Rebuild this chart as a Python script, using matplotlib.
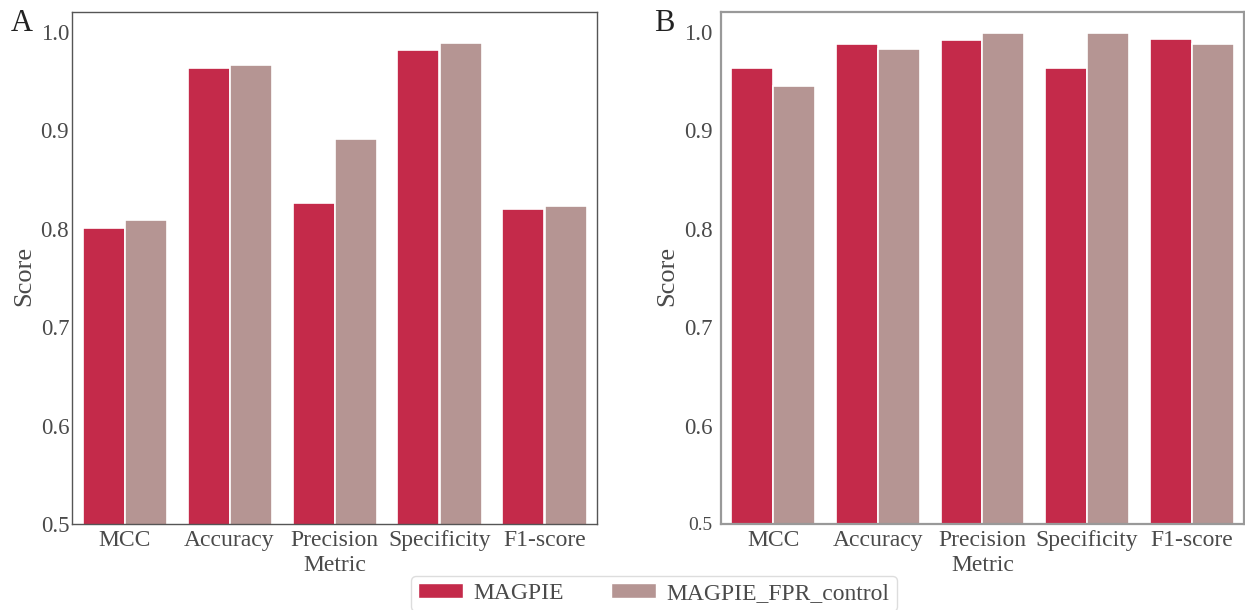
import numpy as np
import matplotlib
matplotlib.use("Agg")
import matplotlib.pyplot as plt
from matplotlib.patches import Patch

plt.rcParams['font.family'] = ['Liberation Serif', 'DejaVu Serif']

metrics = ['MCC', 'Accuracy', 'Precision\nMetric', 'Specificity', 'F1-score']
models = ['MAGPIE', 'MAGPIE_FPR_control']
colors = ['#c42a4a', '#b59593']

# panel A scores
a_magpie = [0.801, 0.963, 0.826, 0.981, 0.820]
a_fpr = [0.809, 0.966, 0.891, 0.989, 0.823]

# panel B scores
b_magpie = [0.963, 0.988, 0.992, 0.963, 0.993]
b_fpr = [0.945, 0.982, 0.999, 0.999, 0.988]

W, H = 1245, 610
fig = plt.figure(figsize=(W / 100, H / 100), dpi=100)
ax_a = fig.add_axes([72 / W, 1 - 524 / H, 525 / W, 512 / H])
ax_b = fig.add_axes([721 / W, 1 - 524 / H, 523 / W, 512 / H])

text_color = '#4a4a4a'


def draw_panel(ax, series, letter, letter_x, spine_color, spine_lw, ypad):
    x = np.arange(len(metrics))
    w = 0.4
    for i, vals in enumerate(series):
        ax.bar(x + (i - 0.5) * w, vals, width=w, color=colors[i],
               edgecolor='white', linewidth=1.2)
    ax.set_xlim(-0.5, len(metrics) - 0.5)
    ax.set_ylim(0.5, 1.02)
    ax.set_yticks([0.5, 0.6, 0.7, 0.8, 0.9, 1.0])
    ax.set_xticks(x)
    ax.set_xticklabels(metrics, fontsize=17, color=text_color, linespacing=1.25)
    ax.tick_params(axis='y', labelsize=16.5, labelcolor=text_color, length=0, pad=ypad)
    ax.tick_params(axis='x', length=0, pad=4)
    ax.set_ylabel('Score', fontsize=19, color=text_color, labelpad=4)
    ax.yaxis.label.set_y(0.485)
    for s in ax.spines.values():
        s.set_color(spine_color)
        s.set_linewidth(spine_lw)
    ax.text(letter_x, 0.978, letter, transform=ax.transAxes, fontsize=22,
            color='#222222', ha='center', va='center')


draw_panel(ax_a, [a_magpie, a_fpr], 'A', (22 - 72) / 525, '#555555', 1.0, 2)
draw_panel(ax_b, [b_magpie, b_fpr], 'B', (664 - 721) / 523, '#999999', 1.6, 6)

# the 0.5 tick in panel B is printed smaller
ax_b.get_yticklabels()[0].set_fontsize(14)

handles = [Patch(facecolor=c, edgecolor='white') for c in colors]
leg = fig.legend(handles, models, loc='upper left', bbox_to_anchor=(411 / W, 1 - 576 / H),
                 ncol=2, fontsize=17, frameon=True, handlelength=1.9, handleheight=0.6,
                 handletextpad=0.45, columnspacing=2.0, borderpad=0.3,
                 borderaxespad=0, fancybox=True)
leg.get_frame().set_edgecolor('#d5d5d5')
for t in leg.get_texts():
    t.set_color(text_color)

fig.savefig('out.png', dpi=100)
